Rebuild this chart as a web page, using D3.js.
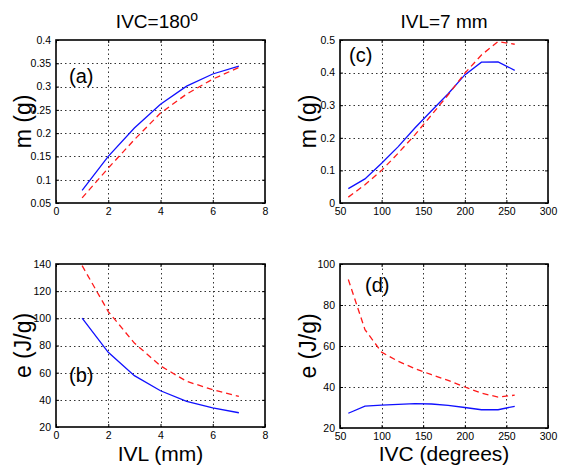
<!DOCTYPE html>
<html><head><meta charset="utf-8">
<script src="https://cdn.jsdelivr.net/npm/d3@7"></script>
<style>body{margin:0;background:#fff}text{font-family:"Liberation Sans",Arial,sans-serif;fill:#000}</style>
</head><body>
<svg id="c" width="561" height="465"></svg>
<script>
// ---- data ----
const ivl = [1, 2, 3, 4, 5, 6, 7];
const ivc = [60, 80, 100, 120, 140, 160, 180, 200, 220, 240, 260];
const mIvlBlue = [0.077, 0.150, 0.211, 0.262, 0.301, 0.327, 0.344];
const mIvlRed  = [0.061, 0.125, 0.186, 0.243, 0.284, 0.316, 0.341];
const eIvlBlue = [100.2, 75, 57.8, 46.7, 38.9, 34, 30.5];
const eIvlRed  = [138.8, 105, 81.8, 65, 53.6, 47.5, 42.6];
const mIvcBlue = [0.044, 0.074, 0.122, 0.173, 0.23, 0.283, 0.335, 0.393, 0.432, 0.433, 0.407];
const mIvcRed  = [0.018, 0.056, 0.100, 0.153, 0.209, 0.270, 0.332, 0.398, 0.454, 0.495, 0.487];
const eIvcBlue = [27.2, 30.7, 31.2, 31.5, 31.9, 31.7, 31.0, 30.0, 28.9, 28.9, 30.6];
const eIvcRed  = [92.4, 68, 57, 52.5, 49, 46, 43.2, 40, 37, 35.1, 36];
const ticksIvl = [0, 2, 4, 6, 8];
const ticksIvc = [50, 100, 150, 200, 250, 300];
const ticksMa = [0.05, 0.1, 0.15, 0.2, 0.25, 0.3, 0.35, 0.4];
const ticksMc = [0, 0.1, 0.2, 0.3, 0.4, 0.5];
const ticksEb = [20, 40, 60, 80, 100, 120, 140];
const ticksEd = [20, 40, 60, 80, 100];

const svg = d3.select("#c");

function panel(o) {
  const x = d3.scaleLinear().domain(o.xd).range([o.l, o.r]);
  const y = d3.scaleLinear().domain(o.yd).range([o.b, o.t]);
  const g = svg.append("g");
  // grid (dotted)
  const grid = g.append("g").attr("class", "grid");
  o.xt.slice(1, -1).forEach(v => {
    const px = Math.round(x(v)) + 0.5;
    grid.append("line").attr("x1", px).attr("x2", px).attr("y1", o.t).attr("y2", o.b);
  });
  o.yt.slice(1, -1).forEach(v => {
    const py = Math.round(y(v)) + 0.5;
    grid.append("line").attr("y1", py).attr("y2", py).attr("x1", o.l).attr("x2", o.r);
  });
  grid.selectAll("line").style("stroke", "#333").style("stroke-width", "1px").style("stroke-dasharray", "1.5,3");
  // axes with inward ticks
  g.append("g").attr("transform", `translate(0,${o.b})`)
    .call(d3.axisBottom(x).tickValues(o.xt).tickSize(-3).tickPadding(5).tickFormat(d3.format("")));
  g.append("g").attr("transform", `translate(${o.l},0)`)
    .call(d3.axisLeft(y).tickValues(o.yt).tickSize(-3).tickPadding(5).tickFormat(d => String(+d.toFixed(2))));
  g.append("g").attr("transform", `translate(0,${o.t})`).call(d3.axisTop(x).tickValues(o.xt).tickSize(-3).tickFormat(""));
  g.append("g").attr("transform", `translate(${o.r},0)`).call(d3.axisRight(y).tickValues(o.yt).tickSize(-3).tickFormat(""));
  g.selectAll(".domain").remove();
  g.selectAll(".tick line").attr("stroke", "#000");
  g.selectAll(".tick text").style("font-size", "10.5px").attr("fill", "#111");
  g.append("rect").attr("x", o.l).attr("y", o.t).attr("width", o.r - o.l).attr("height", o.b - o.t)
    .attr("fill", "none").attr("stroke", "#000").attr("stroke-width", 1.6);
  const line = d3.line().x((d, i) => x(o.xs[i])).y(d => y(d));
  g.append("path").datum(o.blue).attr("d", line).attr("fill", "none").attr("stroke", "#1010ff").attr("stroke-width", 1.3);
  g.append("path").datum(o.red).attr("d", line).attr("fill", "none").attr("stroke", "#ff1a1a").attr("stroke-width", 1.3)
    .attr("stroke-dasharray", "6,4");
  g.append("text").attr("x", o.lx).attr("y", o.ly).style("font-size", "20px").text(o.lab);
  g.append("text").attr("transform", `translate(${o.yx},${(o.t + o.b) / 2}) rotate(-90)`).attr("text-anchor", "middle")
    .style("font-size", "23px").text(o.ylab);
  if (o.xlab) g.append("text").attr("x", (o.l + o.r) / 2).attr("y", 461).attr("text-anchor", "middle")
    .style("font-size", "21px").text(o.xlab);
}

panel({l: 56, r: 265, t: 40, b: 203, xd: [0, 8], yd: [0.05, 0.4], xt: ticksIvl, yt: ticksMa, xs: ivl,
  blue: mIvlBlue, red: mIvlRed, lab: "(a)", lx: 69, ly: 83, ylab: "m (g)", yx: 31});
panel({l: 340, r: 548, t: 40, b: 203, xd: [50, 300], yd: [0, 0.5], xt: ticksIvc, yt: ticksMc, xs: ivc,
  blue: mIvcBlue, red: mIvcRed, lab: "(c)", lx: 349, ly: 62, ylab: "m (g)", yx: 316});
panel({l: 56, r: 265, t: 264, b: 427, xd: [0, 8], yd: [20, 140], xt: ticksIvl, yt: ticksEb, xs: ivl,
  blue: eIvlBlue, red: eIvlRed, lab: "(b)", lx: 69, ly: 382, ylab: "e (J/g)", yx: 31, xlab: "IVL (mm)"});
panel({l: 340, r: 548, t: 264, b: 428, xd: [50, 300], yd: [20, 100], xt: ticksIvc, yt: ticksEd, xs: ivc,
  blue: eIvcBlue, red: eIvcRed, lab: "(d)", lx: 365, ly: 292, ylab: "e (J/g)", yx: 316, xlab: "IVC (degrees)"});

const t1 = svg.append("text").attr("x", 157).attr("y", 28).attr("text-anchor", "middle").style("font-size", "19px");
t1.append("tspan").text("IVC=180");
t1.append("tspan").attr("dy", -7).style("font-size", "14px").text("o");
svg.append("text").attr("x", 444).attr("y", 28).attr("text-anchor", "middle").style("font-size", "19px").text("IVL=7 mm");
</script>
</body></html>
